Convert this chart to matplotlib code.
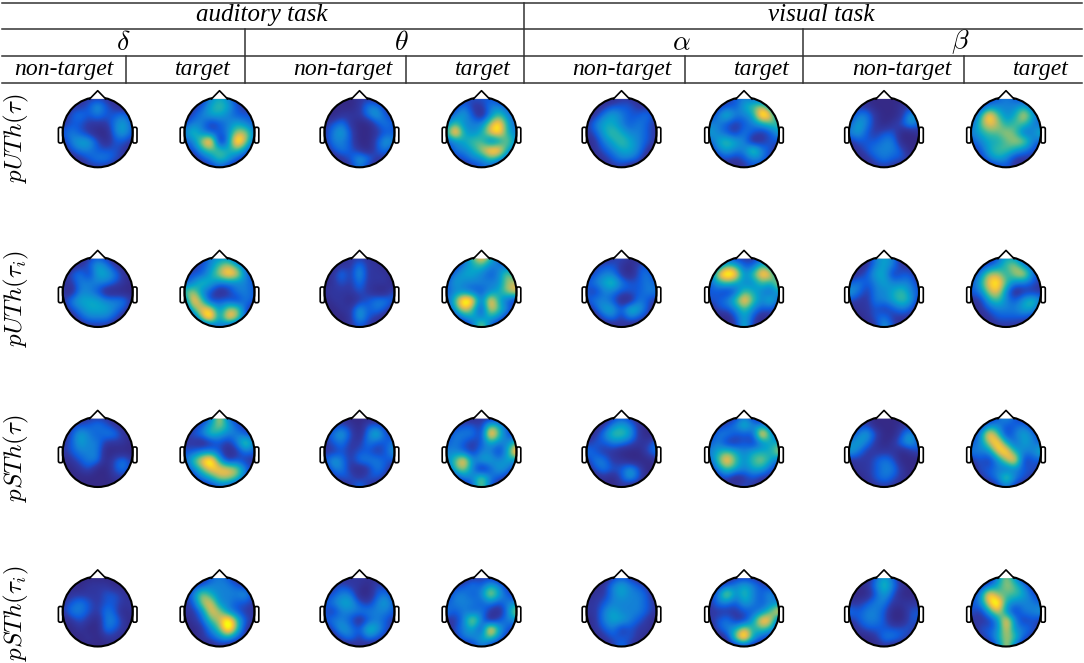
import numpy as np
import matplotlib
matplotlib.use("Agg")
import matplotlib.pyplot as plt
from matplotlib.colors import LinearSegmentedColormap, PowerNorm
from matplotlib.patches import Circle, FancyBboxPatch, Polygon

plt.rcParams['mathtext.fontset'] = 'cm'

# one line per scalp row (front to back), one group per head, 0 = navy .. 9 = yellow
pUTh_tau = [
    "001111000 001343100 000011000 001222100 000011000 001232100 000000000 001232100",
    "011242100 012454210 000013310 013113321 001222110 012245631 011000110 013333421",
    "023232231 023443222 001113421 134203532 013432231 135334972 133100143 148534742",
    "122111342 233123432 123100232 353336842 134432321 332123455 243101242 257645532",
    "232100342 353223663 134200122 494347843 124543321 432132124 342122001 345565235",
    "134420221 236903962 133200243 234552363 013454321 245430122 122233000 234456632",
    "023322210 124554531 023210231 133468842 012344310 134336320 012333200 124554321",
    "001233210 002354210 001243110 012335420 001233200 012123310 001232210 013431110",
    "000111000 000121000 000131000 000122000 000110000 000012100 000111000 000121000",
]
pUTh_taui = [
    "000121000 001333100 000111000 002585200 000121000 001111100 000343000 000243100",
    "001243100 012356420 001131100 013453321 012210220 025422530 001343110 012356321",
    "023144310 122468731 013141110 134432363 123310231 279835872 012441220 136646731",
    "113333210 235433332 012131110 243333366 234532232 245433547 232343331 247853321",
    "103320000 563201332 111121002 233223467 213322233 221254324 431334532 236730111",
    "134443331 285122132 011012332 259828421 233200321 223585352 211334541 114532453",
    "023444320 157736620 001142320 147517531 024425420 022353221 011212320 012333441",
    "002333200 016938620 000142100 013434310 002313210 000242010 001231110 001222210",
    "000111000 000131000 000121000 000272000 000010000 000151000 000142000 000111000",
]
pSTh_tau = [
    "000111000 001272100 000000000 000010000 000121000 000131000 000000000 000242000",
    "012232100 012464210 012102210 012215420 001343100 012353320 012000110 013322310",
    "024323310 123543321 134203521 133319521 013554100 133222941 134200241 138513431",
    "124331110 110121363 123113223 232124335 122332113 231121344 343101342 236842432",
    "123330000 223320132 112122124 332133149 321100023 345434447 431111012 333784335",
    "012330231 257941211 243133322 358344343 133110001 258535642 111232000 121368122",
    "001200231 135777631 033101320 156302431 023224200 135434421 011233100 022323221",
    "000000110 013466520 012212210 013363210 001024200 012012110 001232100 012363210",
    "000000000 000122000 000131000 000262000 000010000 000121000 000111000 000131000",
]
pSTh_taui = [
    "000000000 000232000 000111000 000111000 000121000 000111000 000242000 000363000",
    "000111000 012333210 012110210 012324310 001343210 012343210 001353100 012465310",
    "011112210 136433341 123300231 133237421 011343320 137353241 000242000 138555421",
    "123212211 126733221 234421342 233323233 112333321 133243233 112331111 237943332",
    "133213201 113763211 213333332 323231037 113433321 111122358 323320022 214731334",
    "012103310 012569521 233202321 113730233 013443210 123114871 123320022 111383121",
    "001003210 001359510 024325421 023419421 012312110 023474541 012222220 022373321",
    "000101100 001234210 002313210 013345310 001222100 001694210 000133210 012465210",
    "000000000 000010000 000010000 000131000 000131000 000010000 000010000 000272000",
]
all_rows = [pUTh_tau, pUTh_taui, pSTh_tau, pSTh_taui]
row_labels = [r'$pUTh(\tau)$', r'$pUTh(\tau_i)$', r'$pSTh(\tau)$', r'$pSTh(\tau_i)$']

tasks = ['auditory task', 'visual task']
bands = [r'$\delta$', r'$\theta$', r'$\alpha$', r'$\beta$']
conditions = ['non-target', 'target']

# layout, in pixels of the 1084x663 picture
col_x = [97.7, 219.5, 359.5, 481.5, 621.5, 744, 884, 1006]
row_y = [132.3, 292, 452, 611.5]
label_y = [138, 298, 458, 613]
r = 35

parula = LinearSegmentedColormap.from_list('parula', [
    (0.00, '#352a87'), (0.12, '#2f3ba8'), (0.22, '#0f5cdd'), (0.33, '#1481d6'),
    (0.45, '#06a4ca'), (0.56, '#2eb7a4'), (0.68, '#87bf77'), (0.80, '#d9ba56'),
    (0.90, '#fcce2e'), (1.00, '#f9fb0e')])
norm = PowerNorm(1.2, vmin=0, vmax=7.5, clip=True)

fig = plt.figure(figsize=(10.84, 6.63), dpi=100)
ax = fig.add_axes([0, 0, 1, 1])


def draw_head(cx, cy, grid):
    e = r * 1.125
    im = ax.imshow(grid, cmap=parula, norm=norm, interpolation='bicubic',
                   extent=(cx - e, cx + e, cy + e, cy - e), origin='upper', zorder=1)
    clip = Circle((cx, cy), r, transform=ax.transData)
    im.set_clip_path(clip)
    for side in (-1, 1):
        ear_x = cx - 39.3 if side < 0 else cx + 35
        ax.add_patch(FancyBboxPatch((ear_x, cy - 5), 4.3, 15.7,
                                    boxstyle='round,pad=0,rounding_size=1.6',
                                    fc='white', ec='black', lw=1.2, zorder=2))
    ax.add_patch(Circle((cx, cy), r, fc='none', ec='black', lw=1.5, zorder=3))
    ax.add_patch(Polygon([(cx - 8, cy - r + 1.6), (cx, cy - 41.6), (cx + 8, cy - r + 1.6)],
                         closed=True, fc='white', ec='none', zorder=4))
    ax.plot([cx - 8, cx, cx + 8], [cy - r + 1.6, cy - 41.6, cy - r + 1.6],
            color='black', lw=1.2, zorder=5)


for i, row in enumerate(all_rows):
    table = [line.split() for line in row]
    for j in range(8):
        grid = np.array([[int(c) for c in table[k][j]] for k in range(9)], dtype=float)
        draw_head(col_x[j], row_y[i], grid)
    ax.text(16, label_y[i], row_labels[i], rotation=90, ha='center', va='center', fontsize=18)

# table rules
for y in [2.7, 29.3, 55.7, 82.7]:
    ax.plot([2, 1082], [y, y], color='#333333', lw=1.1, zorder=6)
ax.plot([524, 524], [2.7, 82.7], color='#333333', lw=1.1)
for x in [244.5, 803]:
    ax.plot([x, x], [29.3, 82.7], color='#333333', lw=1.1)
for x in [126, 405.6, 684.7, 964]:
    ax.plot([x, x], [55.7, 82.7], color='#333333', lw=1.1)

serif = dict(family='Liberation Serif', style='italic', ha='center', va='center')
for x, t in zip([262, 821], tasks):
    ax.text(x, 15, t, fontsize=18, **serif)
for x, b in zip([123, 401, 681, 960], bands):
    ax.text(x, 42, b, fontsize=20, ha='center', va='center')
for x in [64, 343, 622, 901.5]:
    ax.text(x, 69, conditions[0], fontsize=17, **serif)
for x in [203, 483, 762, 1041]:
    ax.text(x, 69, conditions[1], fontsize=17, **serif)

ax.set_xlim(0, 1084)
ax.set_ylim(663, 0)
ax.set_aspect('auto')
ax.axis('off')
fig.savefig('out.png', dpi=100)
